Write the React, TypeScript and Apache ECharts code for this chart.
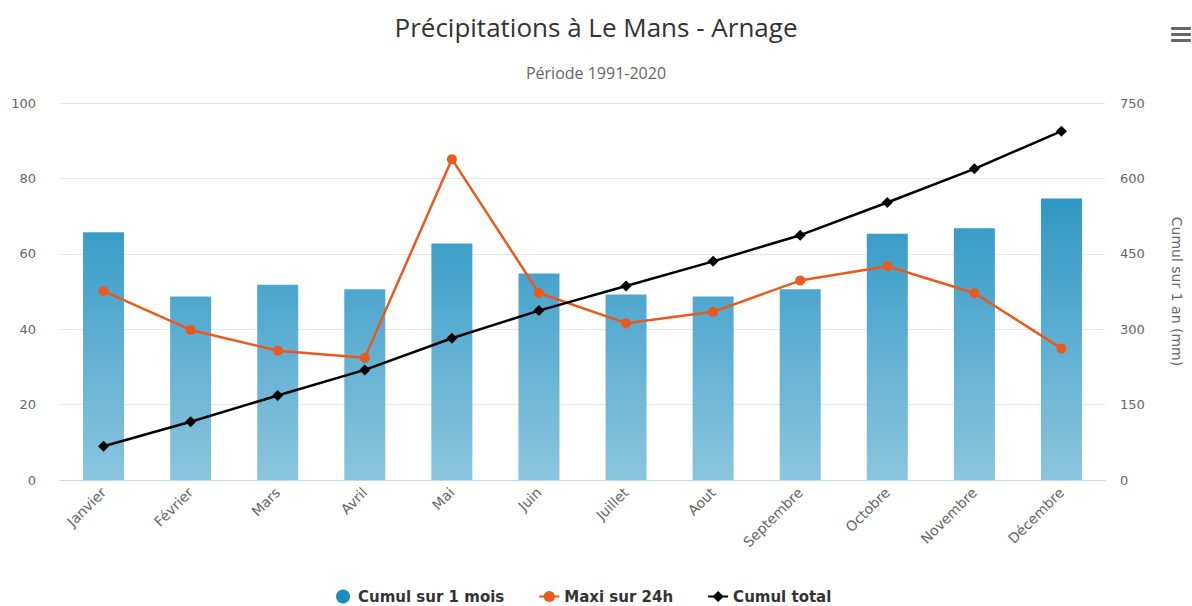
import React, { useEffect, useRef } from "react";
import * as echarts from "echarts";

const months = ["Janvier", "Février", "Mars", "Avril", "Mai", "Juin", "Juillet", "Aout", "Septembre", "Octobre", "Novembre", "Décembre"];
const cumulMois = [65.7, 48.7, 51.8, 50.6, 62.7, 54.8, 49.2, 48.7, 50.6, 65.3, 66.8, 74.7];
const maxi24h = [50.1, 39.8, 34.3, 32.4, 85.1, 49.6, 41.6, 44.6, 52.9, 56.7, 49.6, 34.9];
const cumulTotal = [67, 116, 168, 219, 282, 337, 386, 435, 487, 552, 619, 694];
const leftTicks = { min: 0, max: 100, interval: 20 };
const rightTicks = { min: 0, max: 750, interval: 150 };

const titleText = "Précipitations à Le Mans - Arnage";
const subTitleText = "Période 1991-2020";
const rightAxisName = "Cumul sur 1 an (mm)";

export default function App() {
  const ref = useRef<HTMLDivElement>(null);
  useEffect(() => {
    if (!ref.current) return;
    const chart = echarts.init(ref.current, undefined, { renderer: "svg" });
    const labelFont = "'DejaVu Sans', sans-serif";
    chart.setOption({
      animation: false,
      backgroundColor: "#ffffff",
      title: [
        {
          text: titleText,
          left: "center",
          top: 9,
          textStyle: { fontSize: 26, fontWeight: "normal", color: "#333333", fontFamily: "'Open Sans', sans-serif" },
        },
        {
          text: subTitleText,
          left: "center",
          top: 60,
          textStyle: { fontSize: 16, fontWeight: "normal", color: "#666666", fontFamily: "'Open Sans', sans-serif" },
        },
      ],
      legend: {
        top: 584,
        left: 331,
        itemGap: 34,
        itemWidth: 20,
        itemHeight: 14,
        textStyle: { fontSize: 15, fontWeight: "bold", color: "#333333", fontFamily: labelFont },
        data: [
          { name: "Cumul sur 1 mois", icon: "circle", itemStyle: { color: "#1a8bc0" } },
          { name: "Maxi sur 24h" },
          { name: "Cumul total" },
        ],
      },
      grid: { left: 60, right: 86, top: 103, bottom: 126 },
      xAxis: {
        type: "category",
        data: months,
        boundaryGap: true,
        axisLine: { lineStyle: { color: "#ccd6eb" } },
        axisTick: { length: 10, lineStyle: { color: "#ccd6eb" } },
        axisLabel: { rotate: 45, color: "#666666", fontSize: 14, margin: 10, fontFamily: labelFont, interval: 0 },
      },
      yAxis: [
        {
          type: "value",
          ...leftTicks,
          axisLine: { show: false },
          axisTick: { show: false },
          splitLine: { lineStyle: { color: "#e6e6e6" } },
          axisLabel: { color: "#666666", fontSize: 13, margin: 24, fontFamily: labelFont },
        },
        {
          type: "value",
          ...rightTicks,
          position: "right",
          name: rightAxisName,
          nameLocation: "middle",
          nameRotate: -90,
          nameGap: 65,
          nameTextStyle: { color: "#666666", fontSize: 14, fontFamily: labelFont },
          axisLine: { show: false },
          axisTick: { show: false },
          splitLine: { show: false },
          axisLabel: { color: "#666666", fontSize: 13, margin: 15, fontFamily: labelFont },
        },
      ],
      series: [
        {
          name: "Cumul sur 1 mois",
          type: "bar",
          yAxisIndex: 0,
          data: cumulMois,
          barWidth: 41,
          itemStyle: {
            color: {
              type: "linear",
              x: 0,
              y: 103,
              x2: 0,
              y2: 480,
              global: true,
              colorStops: [
                { offset: 0, color: "#0f88bd" },
                { offset: 1, color: "#8bc5de" },
              ],
            },
          },
        },
        {
          name: "Maxi sur 24h",
          type: "line",
          yAxisIndex: 0,
          data: maxi24h,
          symbol: "circle",
          symbolSize: 10,
          color: "#ea5a1f",
          lineStyle: { width: 2.5, color: "#ea5a1f" },
          itemStyle: { color: "#ea5a1f" },
        },
        {
          name: "Cumul total",
          type: "line",
          yAxisIndex: 1,
          data: cumulTotal,
          symbol: "diamond",
          symbolSize: 11,
          color: "#000000",
          lineStyle: { width: 2.5, color: "#000000" },
          itemStyle: { color: "#000000" },
        },
      ],
      graphic: [
        { type: "rect", left: 1171, top: 27, shape: { width: 20, height: 3, r: 1 }, style: { fill: "#666666" } },
        { type: "rect", left: 1171, top: 33, shape: { width: 20, height: 3, r: 1 }, style: { fill: "#666666" } },
        { type: "rect", left: 1171, top: 39, shape: { width: 20, height: 3, r: 1 }, style: { fill: "#666666" } },
      ],
    });
    return () => chart.dispose();
  }, []);
  return <div ref={ref} style={{ position: "fixed", left: 0, top: 0, width: 1192, height: 606 }} />;
}
